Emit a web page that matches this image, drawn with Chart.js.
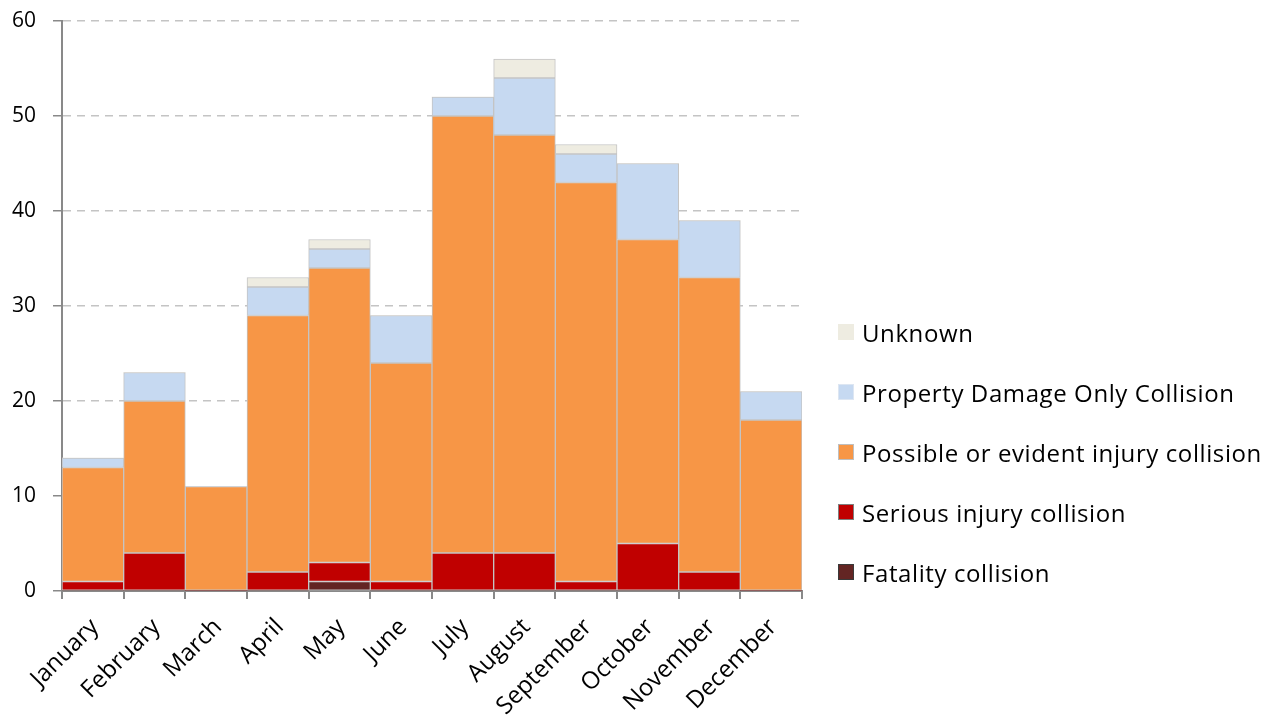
<!DOCTYPE html>
<html>
<head>
<meta charset="utf-8">
<script src="https://cdn.jsdelivr.net/npm/chart.js@4"></script>
<style>
  body { margin: 0; background: #fff; }
  #wrap { position: relative; width: 1282px; height: 724px; }
  #legend { position: absolute; left: 838px; top: 302px; font-family: "Open Sans", sans-serif; font-size: 24px; letter-spacing: 0.6px; color: #000; }
  .item { height: 60px; display: flex; align-items: center; position: absolute; left: 0; white-space: nowrap; }
  .box { width: 16px; height: 16px; margin-right: 8px; box-sizing: border-box; }
</style>
</head>
<body>
<div id="wrap">
  <canvas id="chart" width="1282" height="724"></canvas>
  <div id="legend"></div>
</div>
<script>
// Місяці
var months = ['January', 'February', 'March', 'April', 'May', 'June', 'July', 'August', 'September', 'October', 'November', 'December'];

// Кількість зіткнень за типом
var fatality = [0, 0, 0, 0, 1, 0, 0, 0, 0, 0, 0, 0];
var serious = [1, 4, 0, 2, 2, 1, 4, 4, 1, 5, 2, 0];
var possible = [12, 16, 11, 27, 31, 23, 46, 44, 42, 32, 31, 18];
var pdo = [1, 3, 0, 3, 2, 5, 2, 6, 3, 8, 6, 3];
var unknown = [0, 0, 0, 1, 1, 0, 0, 2, 1, 0, 0, 0];

var yTicks = [0, 10, 20, 30, 40, 50, 60];

var series = [
    { label: 'Fatality collision', data: fatality, color: '#632523', edge: '#3a3a3a' },
    { label: 'Serious injury collision', data: serious, color: '#c00000', edge: '#7f7f7f' },
    { label: 'Possible or evident injury collision', data: possible, color: '#f79646', edge: '#bfbfbf' },
    { label: 'Property Damage Only Collision', data: pdo, color: '#c6d9f1', edge: '#dde6f2' },
    { label: 'Unknown', data: unknown, color: '#eeece1', edge: '#eeece1' }
];

var datasets = series.map(function (s) {
    return {
        label: s.label,
        data: s.data,
        backgroundColor: s.color,
        borderColor: '#c4c4c4',
        borderWidth: function (c) { return c.raw ? 1 : 0; },
        borderSkipped: false,
        barPercentage: 1,
        categoryPercentage: 1
    };
});

var ctx = document.getElementById('chart').getContext('2d');
var chart = new Chart(ctx, {
    type: 'bar',
    data: { labels: months, datasets: datasets },
    options: {
        responsive: false,
        animation: false,
        layout: { padding: { left: 0, top: 21, right: 480, bottom: 0 } },
        plugins: { legend: { display: false }, tooltip: { enabled: false } },
        scales: {
            x: {
                stacked: true,
                afterFit: function (scale) { scale.height = 133; },
                border: { display: true, color: '#898989', width: 2 },
                grid: { offset: true, drawOnChartArea: false, drawTicks: true, tickLength: 8, color: '#898989', lineWidth: 2 },
                ticks: {
                    minRotation: 45, maxRotation: 45, padding: 14, labelOffset: 2,
                    color: '#000',
                    font: { family: 'Open Sans', size: 24 }
                }
            },
            y: {
                stacked: true,
                min: 0, max: 60,
                afterFit: function (scale) {
                    scale.width = 62;
                    scale.paddingTop = 0;
                    scale.paddingBottom = 0;
                },
                afterBuildTicks: function (scale) {
                    scale.ticks = yTicks.map(function (v) { return { value: v }; });
                },
                // у v4 border.dash задає пунктир ліній сітки
                border: { display: true, color: '#898989', width: 2, dash: [8, 6] },
                grid: {
                    color: '#c4c4c4', lineWidth: 1.5, tickLength: 9, tickColor: '#898989',
                    tickBorderDash: [], drawTicks: true
                },
                ticks: {
                    padding: 17, color: '#000',
                    font: { family: 'Open Sans', size: 21 }
                }
            }
        }
    }
});

// Легенда праворуч
var legend = document.getElementById('legend');
var order = series.slice().reverse();
order.forEach(function (s, i) {
    var item = document.createElement('div');
    item.className = 'item';
    item.style.top = (i * 60) + 'px';
    var box = document.createElement('div');
    box.className = 'box';
    box.style.background = s.color;
    box.style.border = '1px solid ' + s.edge;
    var txt = document.createElement('span');
    txt.textContent = s.label;
    item.appendChild(box);
    item.appendChild(txt);
    legend.appendChild(item);
});
</script>
</body>
</html>
